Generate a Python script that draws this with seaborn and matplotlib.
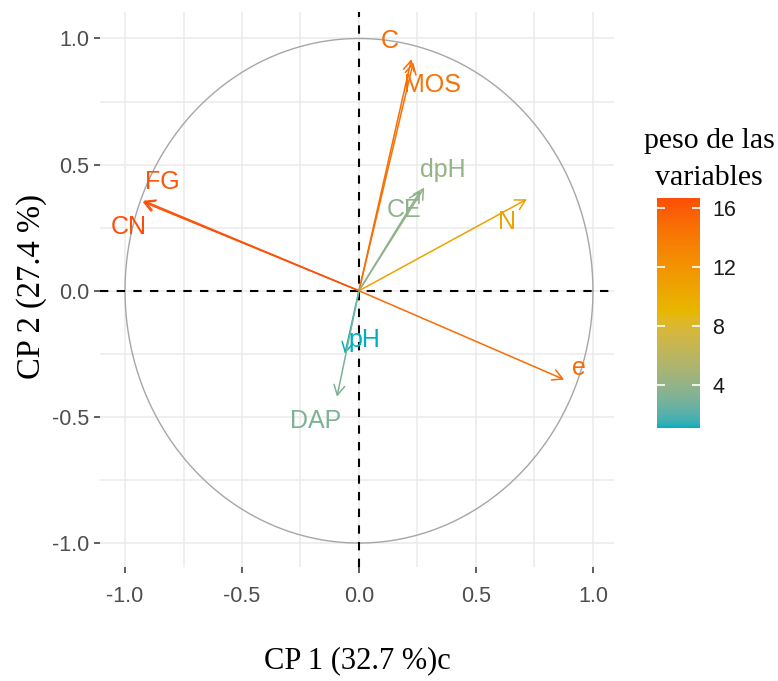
import numpy as np
import matplotlib
matplotlib.use("Agg")
import matplotlib.pyplot as plt
from matplotlib.colors import ListedColormap, Normalize, to_rgb
from matplotlib.cm import ScalarMappable
import seaborn as sns

# PCA variable coordinates (CP1, CP2) and contribution ("peso")
variables = ["C", "MOS", "dpH", "CE", "N", "FG", "CN", "e", "pH", "DAP"]
cp1 = [0.224, 0.232, 0.279, 0.262, 0.718, -0.921, -0.925, 0.877, -0.060, -0.094]
cp2 = [0.918, 0.905, 0.409, 0.396, 0.363, 0.357, 0.353, -0.352, -0.250, -0.420]
peso = [14.9, 14.6, 4.1, 3.7, 10.8, 16.2, 16.68, 14.9, 1.06, 3.1]

# repelled label positions
label_x = [0.13, 0.315, 0.357, 0.194, 0.632, -0.839, -0.982, 0.942, 0.023, -0.184]
label_y = [0.99, 0.817, 0.48, 0.319, 0.271, 0.431, 0.253, -0.307, -0.197, -0.515]

axis_ticks = [-1.0, -0.5, 0.0, 0.5, 1.0]
minor_ticks = [-0.75, -0.25, 0.25, 0.75]
cbar_ticks = [4, 8, 12, 16]
gradient_cols = ["#00AFBB", "#E7B800", "#FC4E07"]


# ggplot interpolates gradients in Lab space, do the same here
M = np.array([[0.4124, 0.3576, 0.1805],
              [0.2126, 0.7152, 0.0722],
              [0.0193, 0.1192, 0.9505]])
WHITE = np.array([0.95047, 1.0, 1.08883])


def to_lab(hexcol):
    c = np.array(to_rgb(hexcol))
    lin = np.where(c <= 0.04045, c / 12.92, ((c + 0.055) / 1.055) ** 2.4)
    xyz = M @ lin / WHITE
    f = np.where(xyz > 0.008856, np.cbrt(xyz), 7.787 * xyz + 16 / 116)
    return np.array([116 * f[1] - 16, 500 * (f[0] - f[1]), 200 * (f[1] - f[2])])


def from_lab(lab):
    fy = (lab[0] + 16) / 116
    f = np.array([fy + lab[1] / 500, fy, fy - lab[2] / 200])
    xyz = np.where(f ** 3 > 0.008856, f ** 3, (f - 16 / 116) / 7.787) * WHITE
    lin = np.linalg.solve(M, xyz)
    c = np.where(lin <= 0.0031308, 12.92 * lin, 1.055 * np.clip(lin, 0, None) ** (1 / 2.4) - 0.055)
    return np.clip(c, 0, 1)


labs = [to_lab(c) for c in gradient_cols]
samples = []
for t in np.linspace(0, 1, 256):
    seg = min(int(t * 2), 1)
    u = t * 2 - seg
    samples.append(from_lab(labs[seg] * (1 - u) + labs[seg + 1] * u))
cmap = ListedColormap(samples)
norm = Normalize(vmin=min(peso), vmax=max(peso))

sns.set_theme(style="whitegrid")
plt.rcParams["font.family"] = ["Liberation Sans", "DejaVu Sans"]
serif = ["Liberation Serif", "DejaVu Serif"]

fig = plt.figure(figsize=(7.78, 6.81), dpi=100)
ax = fig.add_axes([100 / 778, 1 - 567 / 681, 514 / 778, 555 / 681])
ax.set_facecolor("white")

# grid
ax.set_xticks(axis_ticks)
ax.set_yticks(axis_ticks)
ax.set_xticks(minor_ticks, minor=True)
ax.set_yticks(minor_ticks, minor=True)
ax.grid(which="both", color="#EBEBEB", lw=1.1)
ax.set_axisbelow(True)
for s in ax.spines.values():
    s.set_visible(False)
ax.tick_params(which="major", bottom=True, left=True, length=4, width=1.1,
               color="#333333", labelsize=15.5, labelcolor="#4D4D4D", pad=4)
ax.tick_params(axis="x", which="major", pad=10)
ax.tick_params(which="minor", length=0)
ax.set_xticklabels([f"{t:.1f}" for t in axis_ticks])
ax.set_yticklabels([f"{t:.1f}" for t in axis_ticks])

# correlation circle
theta = np.linspace(0, 2 * np.pi, 400)
ax.plot(np.cos(theta), np.sin(theta), color="#A6A6A6", lw=1.0, zorder=2)

ax.axhline(0, color="black", ls=(0, (4, 4)), lw=1.5, zorder=3)
ax.axvline(0, color="black", ls=(0, (4, 4)), lw=1.5, zorder=3)

# arrows
for name, x, y, p, lx, ly in zip(variables, cp1, cp2, peso, label_x, label_y):
    c = cmap(norm(p))
    ax.annotate("", xy=(x, y), xytext=(0, 0),
                arrowprops=dict(arrowstyle="->,head_length=0.55,head_width=0.3",
                                color=c, lw=1.1, shrinkA=0, shrinkB=0,
                                mutation_scale=13), zorder=4)
    ax.text(lx, ly, name, color=c, fontsize=18, ha="center", va="center", zorder=5)

ax.set_xlim(-1.107, 1.09)
ax.set_ylim(-1.095, 1.105)
ax.set_xlabel("")
ax.set_ylabel("")

# axis titles
fig.text(357 / 778, 1 - 661 / 681, "CP 1 (32.7 %)c", ha="center", va="center",
         family=serif, fontsize=22, color="black")
fig.text(32 / 778, 1 - 287 / 681, "CP 2 (27.4 %)", ha="center", va="center",
         rotation=90, family=serif, fontsize=23.5, color="black")

# colour bar legend
cax = fig.add_axes([657 / 778, 1 - 428 / 681, 43 / 778, 230 / 681])
cb = fig.colorbar(ScalarMappable(norm=norm, cmap=cmap), cax=cax)
cb.outline.set_visible(False)
cb.set_ticks(cbar_ticks)
cax.tick_params(length=0, labelsize=15.5, labelcolor="#1A1A1A", pad=9)
tr = cax.get_yaxis_transform()
cax.hlines(cbar_ticks, 0, 0.18, transform=tr, color="white", lw=1.2)
cax.hlines(cbar_ticks, 0.82, 1, transform=tr, color="white", lw=1.2)

fig.text(709 / 778, 1 - 148 / 681, "peso de las", ha="center", va="baseline",
         family=serif, fontsize=21.5, color="black")
fig.text(709 / 778, 1 - 185 / 681, "variables", ha="center", va="baseline",
         family=serif, fontsize=21.5, color="black")

fig.savefig("out.png", dpi=100)
